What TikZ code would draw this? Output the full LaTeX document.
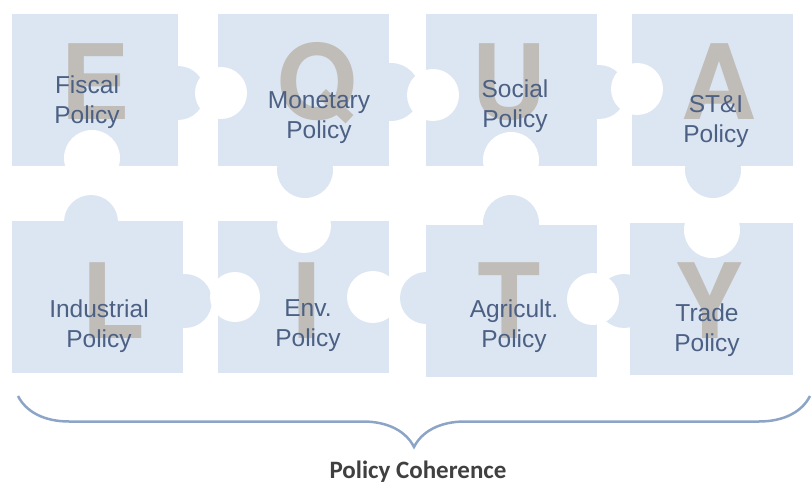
\documentclass[tikz,border=0pt]{standalone}
\usepackage{fontspec}
\setmainfont{Liberation Sans}
\newfontfamily\letterFont{TeX Gyre Heros}
\newfontfamily\coherenceFont{Carlito}
\usetikzlibrary{decorations.pathreplacing}

\definecolor{pieceBlue}{RGB}{220, 230, 242}
\definecolor{letterGrey}{RGB}{192, 188, 184}
\definecolor{policyBlue}{RGB}{76, 96, 132}
\definecolor{braceBlue}{RGB}{140, 164, 198}
\definecolor{captionGrey}{RGB}{64, 64, 64}

% name/left/top/right/bottom
\newcommand{\pieceBodies}{%
    fiscal/12/14/178/166,
    monetary/218/14/389/166,
    social/426/14/597/166,
    sti/632/14/793/166,
    industrial/12/221/183/373,
    env/218/221/389/373,
    agricult/426/225/597/377,
    trade/630/223/793/375
}
% x/y/radius of the knobs sticking out
\newcommand{\pieceTabs}{%
    178/93/27, 391/92/29, 305/170/28, 599/92/27, 713/170/28,
    91/222/27, 185/301/27, 511/223/28, 426/298/26, 624/301/27
}
% x/y/radius of the holes cut in
\newcommand{\pieceNotches}{%
    92/158/28, 221/93/26, 433/95/26, 511/160/28, 637/89/26,
    304/226/27, 235/297/25, 373/297/26, 593/299/26, 712/230/28
}
% letter/x/baseline/text/x/y
\newcommand{\pieceLabels}{%
    E/95/120/Fiscal\\Policy/87/102,
    Q/317/120/Monetary\\Policy/319/118,
    U/509/120/Social\\Policy/515/106,
    A/719/120/ST\&I\\Policy/716/121,
    L/113/338/Industrial\\Policy/99/326,
    I/307/338/Env.\\Policy/308/326,
    T/509/338/Agricult.\\Policy/514/326,
    Y/709/338/Trade\\Policy/707/330
}

\begin{document}
\begin{tikzpicture} [
        x=1pt, y=-1pt,
        piece/.style={fill=pieceBlue},
        hole/.style={fill=white},
        big letter/.style={anchor=base, inner sep=0, text=letterGrey, font=\letterFont\bfseries\fontsize{104}{104}\selectfont},
        policy/.style={align=center, inner sep=0, text=policyBlue, font=\fontsize{24.5}{30}\selectfont},
        brace mirror/.style={decoration={brace,mirror,amplitude=51pt}, decorate},
        caption/.style={anchor=base, inner sep=0, text=captionGrey, font=\coherenceFont\fontsize{25}{30}\selectfont\bfseries},
    ]

    \useasboundingbox (0,0) rectangle (812,484);

    \foreach \name/\xa/\ya/\xb/\yb in \pieceBodies {
        \fill[piece] (\xa,\ya) rectangle (\xb,\yb);
        \coordinate (\name) at ({(\xa+\xb)/2},{(\ya+\yb)/2});
    }
    \foreach \cx/\cy/\r in \pieceTabs
        \fill[piece] (\cx,\cy) circle[radius=\r pt];
    \foreach \cx/\cy/\r in \pieceNotches
        \fill[hole] (\cx,\cy) circle[radius=\r pt];

    \foreach \letter/\lx/\ly/\policyText/\px/\py [count=\n from 1] in \pieceLabels {
        \node[big letter] (letter \n) at (\lx,\ly) {\letter};
        \node[policy] (policy \n) at (\px,\py) {\policyText};
    }

    \coordinate (brace west) at (18,396);
    \coordinate (brace east) at (810,396);
    \draw[brace mirror, braceBlue, line width=2.5pt] (brace west) -- (brace east);

    \node[caption] (coherence) at (418,478) {Policy Coherence};

\end{tikzpicture}
\end{document}
